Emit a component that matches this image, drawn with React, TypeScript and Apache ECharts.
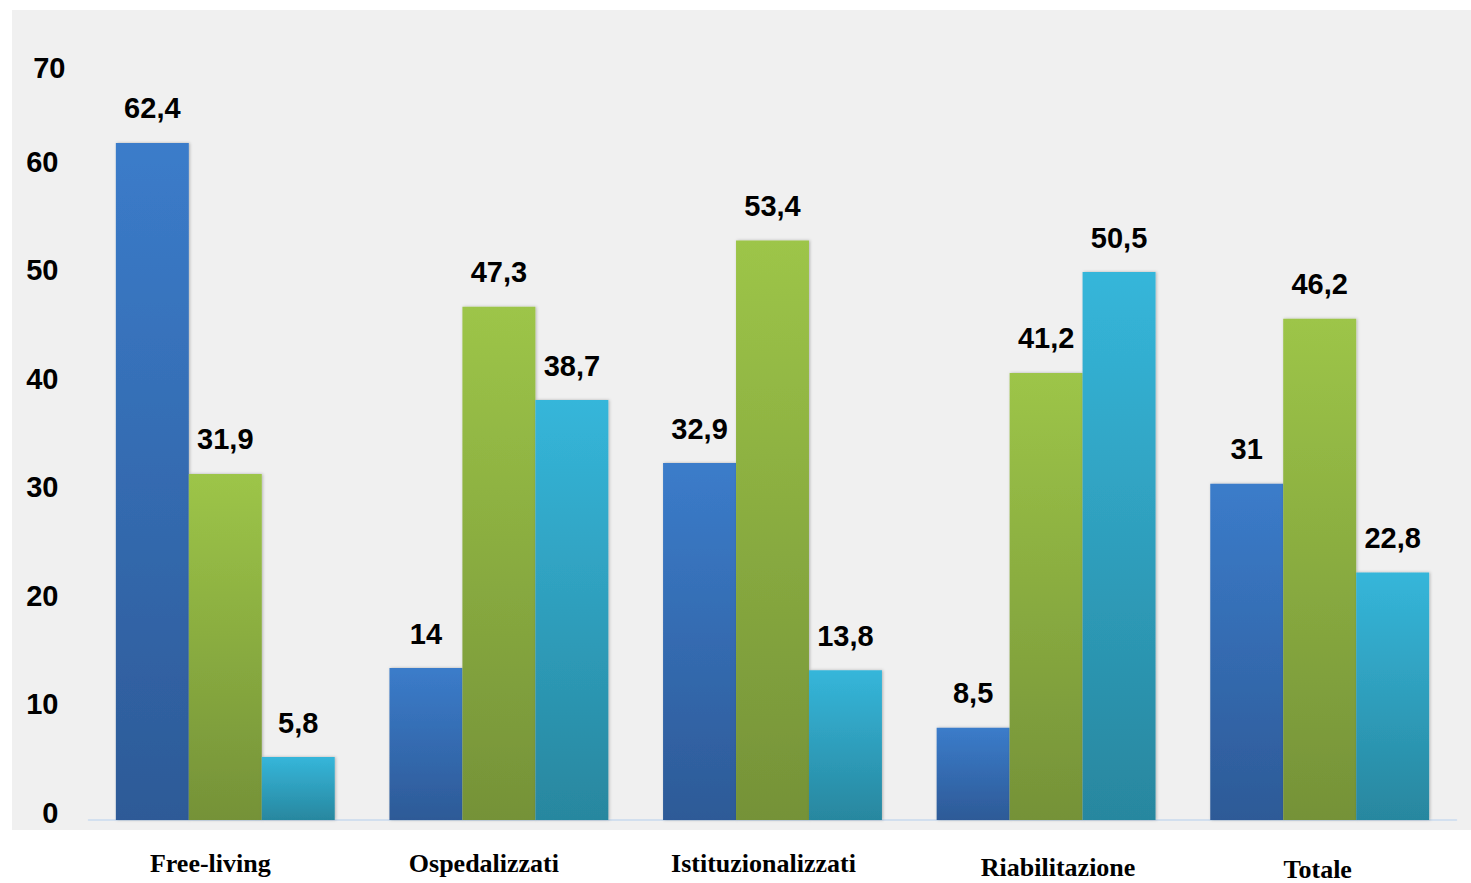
import React, { useEffect, useRef } from "react";
import * as echarts from "echarts";

const categories = ["Free-living", "Ospedalizzati", "Istituzionalizzati", "Riabilitazione", "Totale"];
const seriesA = [62.4, 14, 32.9, 8.5, 31];
const seriesB = [31.9, 47.3, 53.4, 41.2, 46.2];
const seriesC = [5.8, 38.7, 13.8, 50.5, 22.8];
const yTicks = [0, 10, 20, 30, 40, 50, 60, 70];

// per-category label nudges [top, right, bottom, left] padding
const catPad = [
  [0, 30, 0, 0],
  [0, 30, 0, 0],
  [0, 18, 0, 0],
  [4, 0, 0, 24],
  [6, 4, 0, 0],
];

const grad = (top: string, bottom: string) =>
  new echarts.graphic.LinearGradient(0, 0, 0, 1, [
    { offset: 0, color: top },
    { offset: 1, color: bottom },
  ]);

const fmt = (v: number) => String(v).replace(".", ",");

export default function App() {
  const ref = useRef<HTMLDivElement>(null);
  useEffect(() => {
    if (!ref.current) return;
    const chart = echarts.init(ref.current, null, { renderer: "svg" });
    const labelCfg = {
      show: true,
      position: "top" as const,
      distance: 20,
      fontFamily: "Liberation Sans, Arial, sans-serif",
      fontWeight: "bold" as const,
      fontSize: 29,
      color: "#000",
      formatter: (p: any) => fmt(p.value),
    };
    const mk = (name: string, data: number[], top: string, bottom: string) => ({
      name,
      type: "bar" as const,
      data,
      barGap: "0%",
      barCategoryGap: "20%",
      itemStyle: {
        color: grad(top, bottom),
        shadowColor: "rgba(0,0,0,0.25)",
        shadowBlur: 3,
        shadowOffsetX: 1,
      },
      label: labelCfg,
    });
    const yFont = {
      fontFamily: "Liberation Sans, Arial, sans-serif",
      fontWeight: "bold" as const,
      fontSize: 29,
      color: "#000",
    };
    chart.setOption({
      animation: false,
      backgroundColor: "#ffffff",
      graphic: [
        {
          type: "rect",
          z: -10,
          shape: { x: 12, y: 10, width: 1459, height: 820 },
          style: { fill: "#f0f0f0" },
        },
      ],
      grid: { left: 88.5, right: 14.5, top: 60.5, bottom: 63, outerBoundsMode: "none", containLabel: false },
      xAxis: {
        type: "category",
        data: categories.map((c, i) => ({
          value: c,
          textStyle: { padding: catPad[i] },
        })),
        axisLine: { show: true, lineStyle: { color: "#c9daee", width: 1.5 } },
        axisTick: { show: false },
        axisLabel: {
          margin: 30,
          fontFamily: "Liberation Serif, Times New Roman, serif",
          fontWeight: "bold",
          fontSize: 26,
          color: "#000",
        },
      },
      yAxis: {
        type: "value",
        min: 0,
        max: 70,
        interval: 10,
        splitLine: { show: false },
        axisLine: { show: false },
        axisTick: { show: false },
        axisLabel: {
          margin: 23,
          formatter: (v: number) =>
            yTicks.includes(v) ? (v === 70 ? `{t|${v}}` : `{n|${v}}`) : "",
          rich: {
            n: { ...yFont, padding: [0, 7, 15, 0] },
            t: { ...yFont, padding: [15, 0, 0, 0] },
          },
        },
      },
      series: [
        mk("A", seriesA, "#3b7cca", "#2d5a97"),
        mk("B", seriesB, "#9dc548", "#759238"),
        mk("C", seriesC, "#35b6da", "#28879f"),
      ],
    });
    return () => chart.dispose();
  }, []);
  return (
    <div
      ref={ref}
      style={{ position: "absolute", left: 0, top: 0, width: 1471, height: 883 }}
    />
  );
}
